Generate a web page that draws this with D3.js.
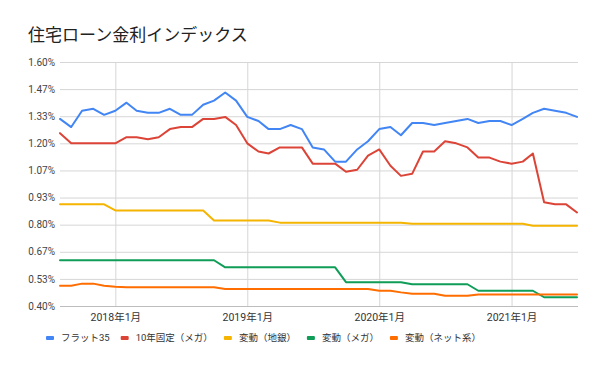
<!DOCTYPE html>
<html><head><meta charset="utf-8">
<script src="https://cdn.jsdelivr.net/npm/d3@7"></script>
<style>body{margin:0;background:#fff}svg{display:block}</style>
</head><body><svg id="c" width="600" height="365"></svg>
<script>
const title = "住宅ローン金利インデックス";
const months = ["2017-08","2017-09","2017-10","2017-11","2017-12",
 "2018-01","2018-02","2018-03","2018-04","2018-05","2018-06","2018-07","2018-08","2018-09","2018-10","2018-11","2018-12",
 "2019-01","2019-02","2019-03","2019-04","2019-05","2019-06","2019-07","2019-08","2019-09","2019-10","2019-11","2019-12",
 "2020-01","2020-02","2020-03","2020-04","2020-05","2020-06","2020-07","2020-08","2020-09","2020-10","2020-11","2020-12",
 "2021-01","2021-02","2021-03","2021-04","2021-05","2021-06","2021-07"];
const flat35 = [1.32,1.28,1.36,1.37,1.34,1.36,1.40,1.36,1.35,1.35,1.37,1.34,1.34,1.39,1.41,1.45,1.41,
 1.33,1.31,1.27,1.27,1.29,1.27,1.18,1.17,1.11,1.11,1.17,1.21,
 1.27,1.28,1.24,1.30,1.30,1.29,1.30,1.31,1.32,1.30,1.31,1.31,
 1.29,1.32,1.35,1.37,1.36,1.35,1.33];
const fixed10Mega = [1.25,1.20,1.20,1.20,1.20,1.20,1.23,1.23,1.22,1.23,1.27,1.28,1.28,1.32,1.32,1.33,1.29,
 1.20,1.16,1.15,1.18,1.18,1.18,1.10,1.10,1.10,1.06,1.07,1.14,
 1.17,1.09,1.04,1.05,1.16,1.16,1.21,1.20,1.18,1.13,1.13,1.11,
 1.10,1.11,1.15,0.91,0.90,0.90,0.86];
const varRegional = [0.90,0.90,0.90,0.90,0.90,0.87,0.87,0.87,0.87,0.87,0.87,0.87,0.87,0.87,0.82,0.82,0.82,
 0.82,0.82,0.82,0.81,0.81,0.81,0.81,0.81,0.81,0.81,0.81,0.81,
 0.81,0.81,0.81,0.805,0.805,0.805,0.805,0.805,0.805,0.805,0.805,0.805,
 0.805,0.805,0.795,0.795,0.795,0.795,0.795];
const varMega = [0.625,0.625,0.625,0.625,0.625,0.625,0.625,0.625,0.625,0.625,0.625,0.625,0.625,0.625,0.625,0.59,0.59,
 0.59,0.59,0.59,0.59,0.59,0.59,0.59,0.59,0.59,0.517,0.517,0.517,
 0.517,0.517,0.517,0.507,0.507,0.507,0.507,0.507,0.507,0.475,0.475,0.475,
 0.475,0.475,0.475,0.443,0.443,0.443,0.443];
const varNet = [0.50,0.50,0.51,0.51,0.50,0.495,0.492,0.492,0.492,0.492,0.492,0.492,0.492,0.492,0.492,0.484,0.484,
 0.484,0.484,0.484,0.484,0.484,0.484,0.484,0.484,0.484,0.484,0.484,0.484,
 0.475,0.475,0.467,0.46,0.46,0.46,0.45,0.45,0.45,0.457,0.457,0.457,
 0.457,0.457,0.457,0.457,0.457,0.457,0.457];
const seriesNames = ["フラット35","10年固定（メガ）","変動（地銀）","変動（メガ）","変動（ネット系）"];
const seriesColors = ["#4285F4","#DB4437","#F4B400","#0F9D58","#FF6D01"];
const yTicks = [0.40,0.5333,0.6667,0.80,0.9333,1.0667,1.20,1.3333,1.4667,1.60];
const yTickLabels = ["0.40%","0.53%","0.67%","0.80%","0.93%","1.07%","1.20%","1.33%","1.47%","1.60%"];
const xTicks = ["2018-01","2019-01","2020-01","2021-01"];
const xTickLabels = ["2018年1月","2019年1月","2020年1月","2021年1月"];

const seriesValues = [flat35, fixed10Mega, varRegional, varMega, varNet];
const parse = d3.timeParse("%Y-%m");
const dates = months.map(parse);

const svg = d3.select("#c");
const font = "Roboto, 'Noto Sans CJK JP', sans-serif";
const L = 60, R = 578, T = 62, B = 306;
const x = d3.scaleTime().domain(d3.extent(dates)).range([L, 577]);
const y = d3.scaleLinear().domain([0.4, 1.6]).range([B, T]);

svg.append("text").attr("x", 28).attr("y", 41).attr("font-family", font)
  .attr("font-size", 17).attr("fill", "#222").text(title);

const yAxis = svg.append("g").attr("transform", `translate(${L},0)`)
  .call(d3.axisLeft(y).tickValues(yTicks).tickSize(-(R - L)).tickPadding(5)
    .tickFormat((d, i) => yTickLabels[i]));
yAxis.select(".domain").remove();
yAxis.selectAll("line").attr("stroke", d => d === 0.40 ? "#bdbdbd" : "#d6d6d6");
yAxis.selectAll("text").attr("font-family", font).attr("font-size", 10).attr("fill", "#444");

const xAxis = svg.append("g").attr("transform", `translate(0,${B})`)
  .call(d3.axisBottom(x).tickValues(xTicks.map(parse)).tickSize(-(B - T)).tickPadding(8)
    .tickFormat((d, i) => xTickLabels[i]));
xAxis.select(".domain").remove();
xAxis.selectAll("line").attr("stroke", "#d6d6d6");
xAxis.selectAll("text").attr("font-family", font).attr("font-size", 10.5).attr("fill", "#333");

const line = d3.line().x((d, i) => x(dates[i])).y(d => y(d));
seriesValues.forEach((vals, k) => {
  svg.append("path").datum(vals).attr("d", line).attr("fill", "none")
    .attr("stroke", seriesColors[k]).attr("stroke-width", 2)
    .attr("stroke-linejoin", "round").attr("stroke-linecap", "round");
});

const lg = svg.append("g");
let cx = 46;
seriesNames.forEach((name, k) => {
  lg.append("rect").attr("x", cx).attr("y", 336).attr("width", 8).attr("height", 4)
    .attr("rx", 1).attr("fill", seriesColors[k]);
  const t = lg.append("text").attr("x", cx + 15).attr("y", 338).attr("dy", "0.35em")
    .attr("font-family", font).attr("font-size", 9.5).attr("fill", "#333").text(name);
  cx += 15 + t.node().getComputedTextLength() + 11;
});
</script></body></html>
